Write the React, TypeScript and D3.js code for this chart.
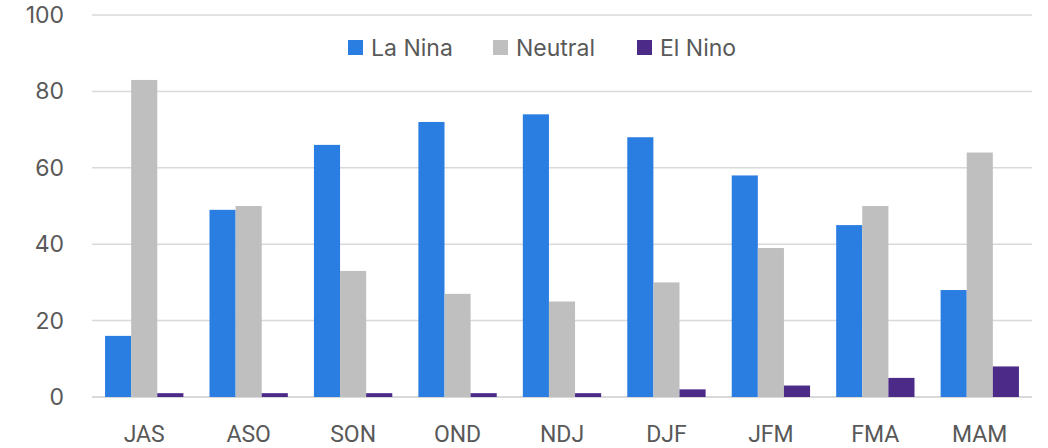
import React from 'react'
import { scaleBand, scaleLinear } from 'd3'

const seasons = ['JAS', 'ASO', 'SON', 'OND', 'NDJ', 'DJF', 'JFM', 'FMA', 'MAM']
const series = ['La Nina', 'Neutral', 'El Nino']
const laNina = [16, 49, 66, 72, 74, 68, 58, 45, 28]
const neutral = [83, 50, 33, 27, 25, 30, 39, 50, 64]
const elNino = [1, 1, 1, 1, 1, 2, 3, 5, 8]
const yTicks = [0, 20, 40, 60, 80, 100]
const colors = ['#2a7de1', '#bfbfbf', '#4b2a88']

const W = 1048
const H = 448
const left = 92
const right = 1032
const top = 15
const bottom = 397
const font = 'Inter, Roboto, sans-serif'
const catFont = 'Roboto, Arial, sans-serif'
const textColor = '#595959'

const App = () => {
    const values = [laNina, neutral, elNino]
    const x0 = scaleBand().domain(seasons).range([left, right]).paddingInner(0.25).paddingOuter(0.125)
    const x1 = scaleBand().domain(series).range([0, x0.bandwidth()])
    const y = scaleLinear().domain([0, 100]).range([bottom, top])
    const legendX = [348, 493, 637]

    return (
        <svg width={W} height={H} style={{ position: 'absolute', left: 0, top: 0 }}>
            <rect width={W} height={H} fill='#fff' />
            {yTicks.map((t) => (
                <g key={t}>
                    <line x1={left} x2={right} y1={y(t)} y2={y(t)} stroke='#d9d9d9' strokeWidth={t === 0 ? 2 : 1.5} />
                    <text x={64} y={y(t)} dy='0.35em' textAnchor='end' fontFamily={font} fontSize={23} fill={textColor}>{t}</text>
                </g>
            ))}
            {seasons.map((s, i) => (
                <g key={s} transform={`translate(${x0(s)},0)`}>
                    {series.map((k, j) => {
                        const v = values[j][i]
                        return (
                            <rect key={k} x={x1(k)} y={y(v)} width={x1.bandwidth()} height={bottom - y(v)}
                                fill={colors[j]} />
                        )
                    })}
                    <text x={x0.bandwidth() / 2} y={433.5} dy='0.35em' textAnchor='middle' fontFamily={catFont} fontSize={23} fill={textColor}>{s}</text>
                </g>
            ))}
            {series.map((k, j) => (
                <g key={k} transform={`translate(${legendX[j]},0)`}>
                    <rect x={0} y={40} width={15} height={15} fill={colors[j]} />
                    <text x={23} y={47.5} dy='0.35em' fontFamily={font} fontSize={23} fill={textColor}>{k}</text>
                </g>
            ))}
        </svg>
    )
}

export default App
